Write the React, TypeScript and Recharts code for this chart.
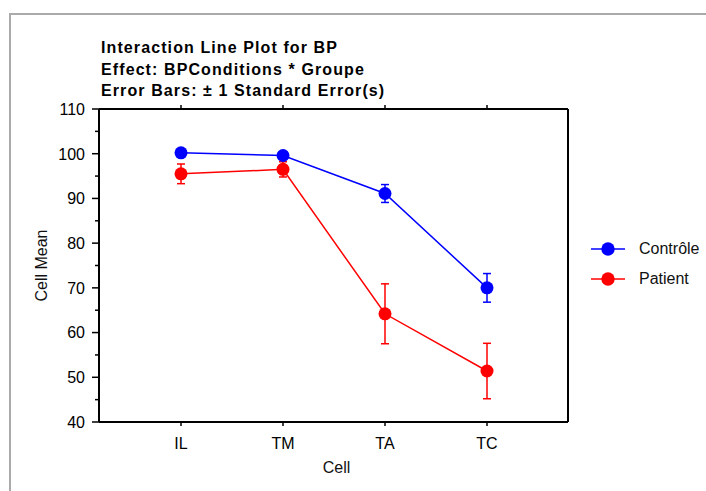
import React from 'react';
import { LineChart, Line, XAxis, YAxis, ErrorBar, Legend, Label } from 'recharts';

// cell means
const cells = ['IL', 'TM', 'TA', 'TC'];
const controleMean = [100.2, 99.6, 91.1, 70.0];
const controleSE = [0.4, 0.5, 2.0, 3.2];
const patientMean = [95.5, 96.5, 64.2, 51.4];
const patientSE = [2.2, 1.7, 6.7, 6.2];

const yTicks = [40, 45, 50, 55, 60, 65, 70, 75, 80, 85, 90, 95, 100, 105, 110];
const titleLines = [
  'Interaction Line Plot for BP',
  'Effect: BPConditions * Groupe',
  'Error Bars: ± 1 Standard Error(s)',
];

const series = [
  { key: 'controle', se: 'controleSE', name: 'Contrôle', color: '#0000ff' },
  { key: 'patient', se: 'patientSE', name: 'Patient', color: '#ff0000' },
];

const data = cells.map((cell, i) => ({
  cell,
  controle: controleMean[i],
  controleSE: controleSE[i],
  patient: patientMean[i],
  patientSE: patientSE[i],
}));

const FONT = '"Liberation Sans", Arial, sans-serif';

const LeftTick = (props: any) => {
  const x = Number(props.x);
  const y = Number(props.y);
  const v = props.payload.value;
  const major = v % 10 === 0;
  return (
    <g>
      <path d={`M${x - (major ? 7 : 4)},${y}H${x}`} stroke="#000" strokeWidth={1.5} fill="none" />
      {major && (
        <text x={x - 14} y={y + 5.8} textAnchor="end" fontSize={16} fill="#000" fontFamily={FONT}>
          {v}
        </text>
      )}
    </g>
  );
};

const RightTick = (props: any) => {
  const x = Number(props.x);
  const y = Number(props.y);
  const major = props.payload.value % 10 === 0;
  return <path d={`M${x},${y}H${x + (major ? 7 : 4)}`} stroke="#000" strokeWidth={1.5} fill="none" />;
};

const BottomTick = (props: any) => {
  const x = Number(props.x);
  const y = Number(props.y);
  return (
    <g>
      <path d={`M${x},${y}V${y + 4}`} stroke="#000" strokeWidth={1.5} fill="none" />
      <text x={x} y={y + 27} textAnchor="middle" fontSize={16} fill="#000" fontFamily={FONT}>
        {props.payload.value}
      </text>
    </g>
  );
};

const TopTick = (props: any) => {
  const x = Number(props.x);
  const y = Number(props.y);
  return <path d={`M${x},${y}V${y - 4}`} stroke="#000" strokeWidth={1.5} fill="none" />;
};

const LegendBox = () => (
  <div style={{ fontFamily: FONT, fontSize: 16, color: '#111' }}>
    {series.map((s) => (
      <div key={s.key} style={{ display: 'flex', alignItems: 'center', height: 20, marginBottom: 10 }}>
        <svg width={36} height={20}>
          <line x1={1} x2={35} y1={10} y2={10} stroke={s.color} strokeWidth={1.5} />
          <circle cx={18} cy={10} r={6.7} fill={s.color} />
        </svg>
        <span style={{ marginLeft: 13 }}>{s.name}</span>
      </div>
    ))}
  </div>
);

export default function App() {
  return (
    <div style={{ position: 'absolute', left: 0, top: 0, width: 706, height: 491, background: '#fff' }}>
      <div
        style={{
          position: 'absolute',
          left: 9,
          top: 13,
          width: 697,
          height: 478,
          borderTop: '2px solid #aaa',
          borderLeft: '2px solid #aaa',
          boxSizing: 'border-box',
        }}
      />
      <div
        style={{
          position: 'absolute',
          left: 101,
          top: 37,
          fontFamily: FONT,
          fontWeight: 'bold',
          fontSize: 16,
          lineHeight: '21.5px',
          letterSpacing: 1.1,
          color: '#000',
          whiteSpace: 'nowrap',
        }}
      >
        {titleLines.map((t) => (
          <div key={t}>{t}</div>
        ))}
      </div>
      <div style={{ position: 'absolute', left: 0, top: 0 }}>
        <LineChart
          width={706}
          height={491}
          data={data}
          margin={{ top: 108, right: 137, bottom: 19, left: 39 }}
          style={{ fontFamily: FONT }}
        >
          <XAxis
            dataKey="cell"
            type="category"
            height={50}
            padding={{ left: 82, right: 81 }}
            axisLine={{ stroke: '#000', strokeWidth: 2 }}
            tickLine={false}
            tickSize={0}
            tickMargin={0}
            interval={0}
            tick={<BottomTick />}
          >
            <Label value="Cell" position="insideBottom" offset={-1} dx={3} fontSize={16} fill="#111" />
          </XAxis>
          <XAxis
            xAxisId="top"
            orientation="top"
            dataKey="cell"
            type="category"
            height={1}
            padding={{ left: 82, right: 81 }}
            axisLine={{ stroke: '#000', strokeWidth: 2 }}
            tickLine={false}
            tickSize={0}
            tickMargin={0}
            interval={0}
            tick={<TopTick />}
          />
          <YAxis
            type="number"
            domain={[40, 110]}
            ticks={yTicks}
            width={60}
            axisLine={{ stroke: '#000', strokeWidth: 2 }}
            tickLine={false}
            tickSize={0}
            tickMargin={0}
            interval={0}
            tick={<LeftTick />}
          >
            <Label
              value="Cell Mean"
              angle={-90}
              position="insideLeft"
              offset={2}
              fontSize={16}
              fill="#111"
              style={{ textAnchor: 'middle' }}
            />
          </YAxis>
          <YAxis
            yAxisId="right"
            orientation="right"
            type="number"
            domain={[40, 110]}
            ticks={yTicks}
            width={1}
            axisLine={{ stroke: '#000', strokeWidth: 2 }}
            tickLine={false}
            tickSize={0}
            tickMargin={0}
            interval={0}
            tick={<RightTick />}
          />
          <Legend
            layout="horizontal"
            align="center"
            verticalAlign="middle"
            wrapperStyle={{ left: 590, top: 239, width: 110 }}
            content={<LegendBox />}
          />
          {series.map((s) => (
            <Line
              key={s.key}
              dataKey={s.key}
              name={s.name}
              stroke={s.color}
              strokeWidth={1.5}
              dot={{ r: 6.5, fill: s.color, stroke: s.color, strokeWidth: 0 }}
              activeDot={false}
              isAnimationActive={false}
            >
              <ErrorBar dataKey={s.se} width={4} stroke={s.color} strokeWidth={1.5} />
            </Line>
          ))}
        </LineChart>
      </div>
    </div>
  );
}
